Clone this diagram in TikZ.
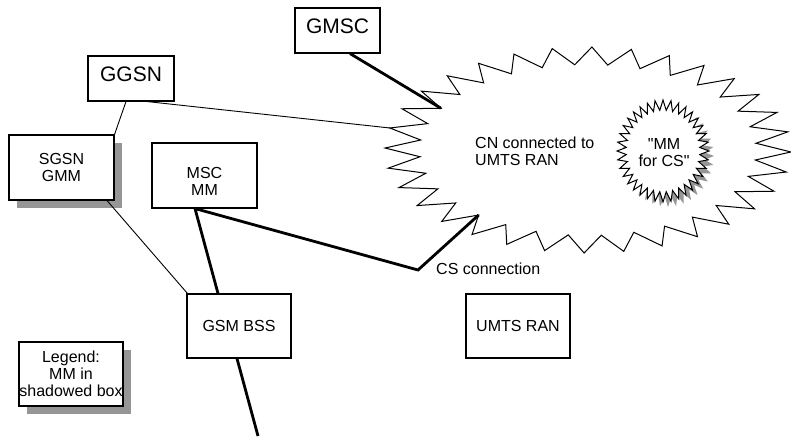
\documentclass[tikz,border=0pt]{standalone}
\usepackage{fontspec}
\setmainfont{Liberation Sans}[Ligatures=TeXOff]
\usetikzlibrary{calc,shadows}
\definecolor{shadowgray}{RGB}{150,150,150}
\begin{document}
\begin{tikzpicture}[x=1pt,y=-1pt,
  font=\fontsize{16}{17}\selectfont,
  box/.style={draw, line width=1.1pt, fill=white, inner sep=0pt, align=center},
  shadowed/.style={drop shadow={shadow xshift=8pt,shadow yshift=-8pt,fill=shadowgray,opacity=1}},
  bigfont/.style={font=\fontsize{21}{24}\selectfont},
  thinline/.style={line width=0.9pt},
  thickline/.style={line width=2.8pt},
  starline/.style={line width=1pt}]
\useasboundingbox (0,0) rectangle (791,436);

% big star "CN connected to UMTS RAN"
\draw[starline] plot[samples at={0,...,64}]
  ({588+203*(1-0.17*mod(\x,2))*cos(1.1+5.625*\x)},
   {150+103*(1-0.17*mod(\x,2))*sin(1.1+5.625*\x)}) -- cycle;
\coordinate (bt17) at ({588+203*cos(192.35)},{150+103*sin(192.35)});
\coordinate (bv18) at ({588+168.5*cos(209.225)},{150+85.5*sin(209.225)});
\coordinate (bv11) at ({588+168.5*cos(130.475)},{150+85.5*sin(130.475)});

% small star "MM for CS" with shadow
\fill[shadowgray] plot[samples at={0,...,72}]
  ({668+46*(1-0.2*mod(\x,2))*cos(5*\x)},
   {156+51*(1-0.2*mod(\x,2))*sin(5*\x)}) -- cycle;
\draw[starline, fill=white] plot[samples at={0,...,72}]
  ({663+46*(1-0.2*mod(\x,2))*cos(5*\x)},
   {151+51*(1-0.2*mod(\x,2))*sin(5*\x)}) -- cycle;

% boxes
\node[box, bigfont, minimum width=85pt, minimum height=45pt, text depth=8pt] (gmsc) at (337.5,30.5) {GMSC};
\node[box, bigfont, minimum width=86pt, minimum height=45pt, text depth=8pt] (ggsn) at (131,78.5) {GGSN};
\coordinate (csbend) at (418,270);
\coordinate (bssout) at (258,436);

% connectors (drawn before the boxes that cover their ends)
\draw[thickline] ([xshift=12.5pt]gmsc.south) -- (bv18);
\draw[thinline] ([xshift=16pt]ggsn.south) -- (bt17);

\node[box, shadowed, minimum width=105pt, minimum height=65pt] (sgsn) at (61.5,167.5) {SGSN\\GMM};
\node[box, minimum width=105pt, minimum height=65pt] (msc) at (204.5,175.5) {\rule{0pt}{22pt}MSC\\MM};
\node[box, minimum width=104pt, minimum height=64pt] (bss) at (239,326) {GSM BSS};
\node[box, minimum width=104pt, minimum height=64pt] (ran) at (518,326) {UMTS RAN};
\node[box, shadowed, minimum width=104pt, minimum height=64pt] (legend) at (71,374) {Legend:\\MM in\\shadowed box};

\draw[thinline] ([xshift=-5pt]ggsn.south) -- (sgsn.north east);
\draw[thinline] ([xshift=45.5pt]sgsn.south) -- ([xshift=1pt]bss.north west);
\draw[thickline] ([xshift=-9.5pt]msc.south) -- ([xshift=-21pt]bss.north);
\draw[thickline, line join=miter] ([xshift=-9.5pt]msc.south) -- (csbend) -- (bv11);
\draw[thickline] ([xshift=-2pt]bss.south) -- (bssout);

% texts
\node[align=left, anchor=west, inner sep=0pt] (cn) at (475,151) {CN connected to\\UMTS RAN};
\node[align=center, inner sep=0pt] (mmcs) at (664,152.5) {"MM\\for CS"};
\node[anchor=west, inner sep=0pt] (csc) at (436,268.5) {CS connection};
\end{tikzpicture}
\end{document}
